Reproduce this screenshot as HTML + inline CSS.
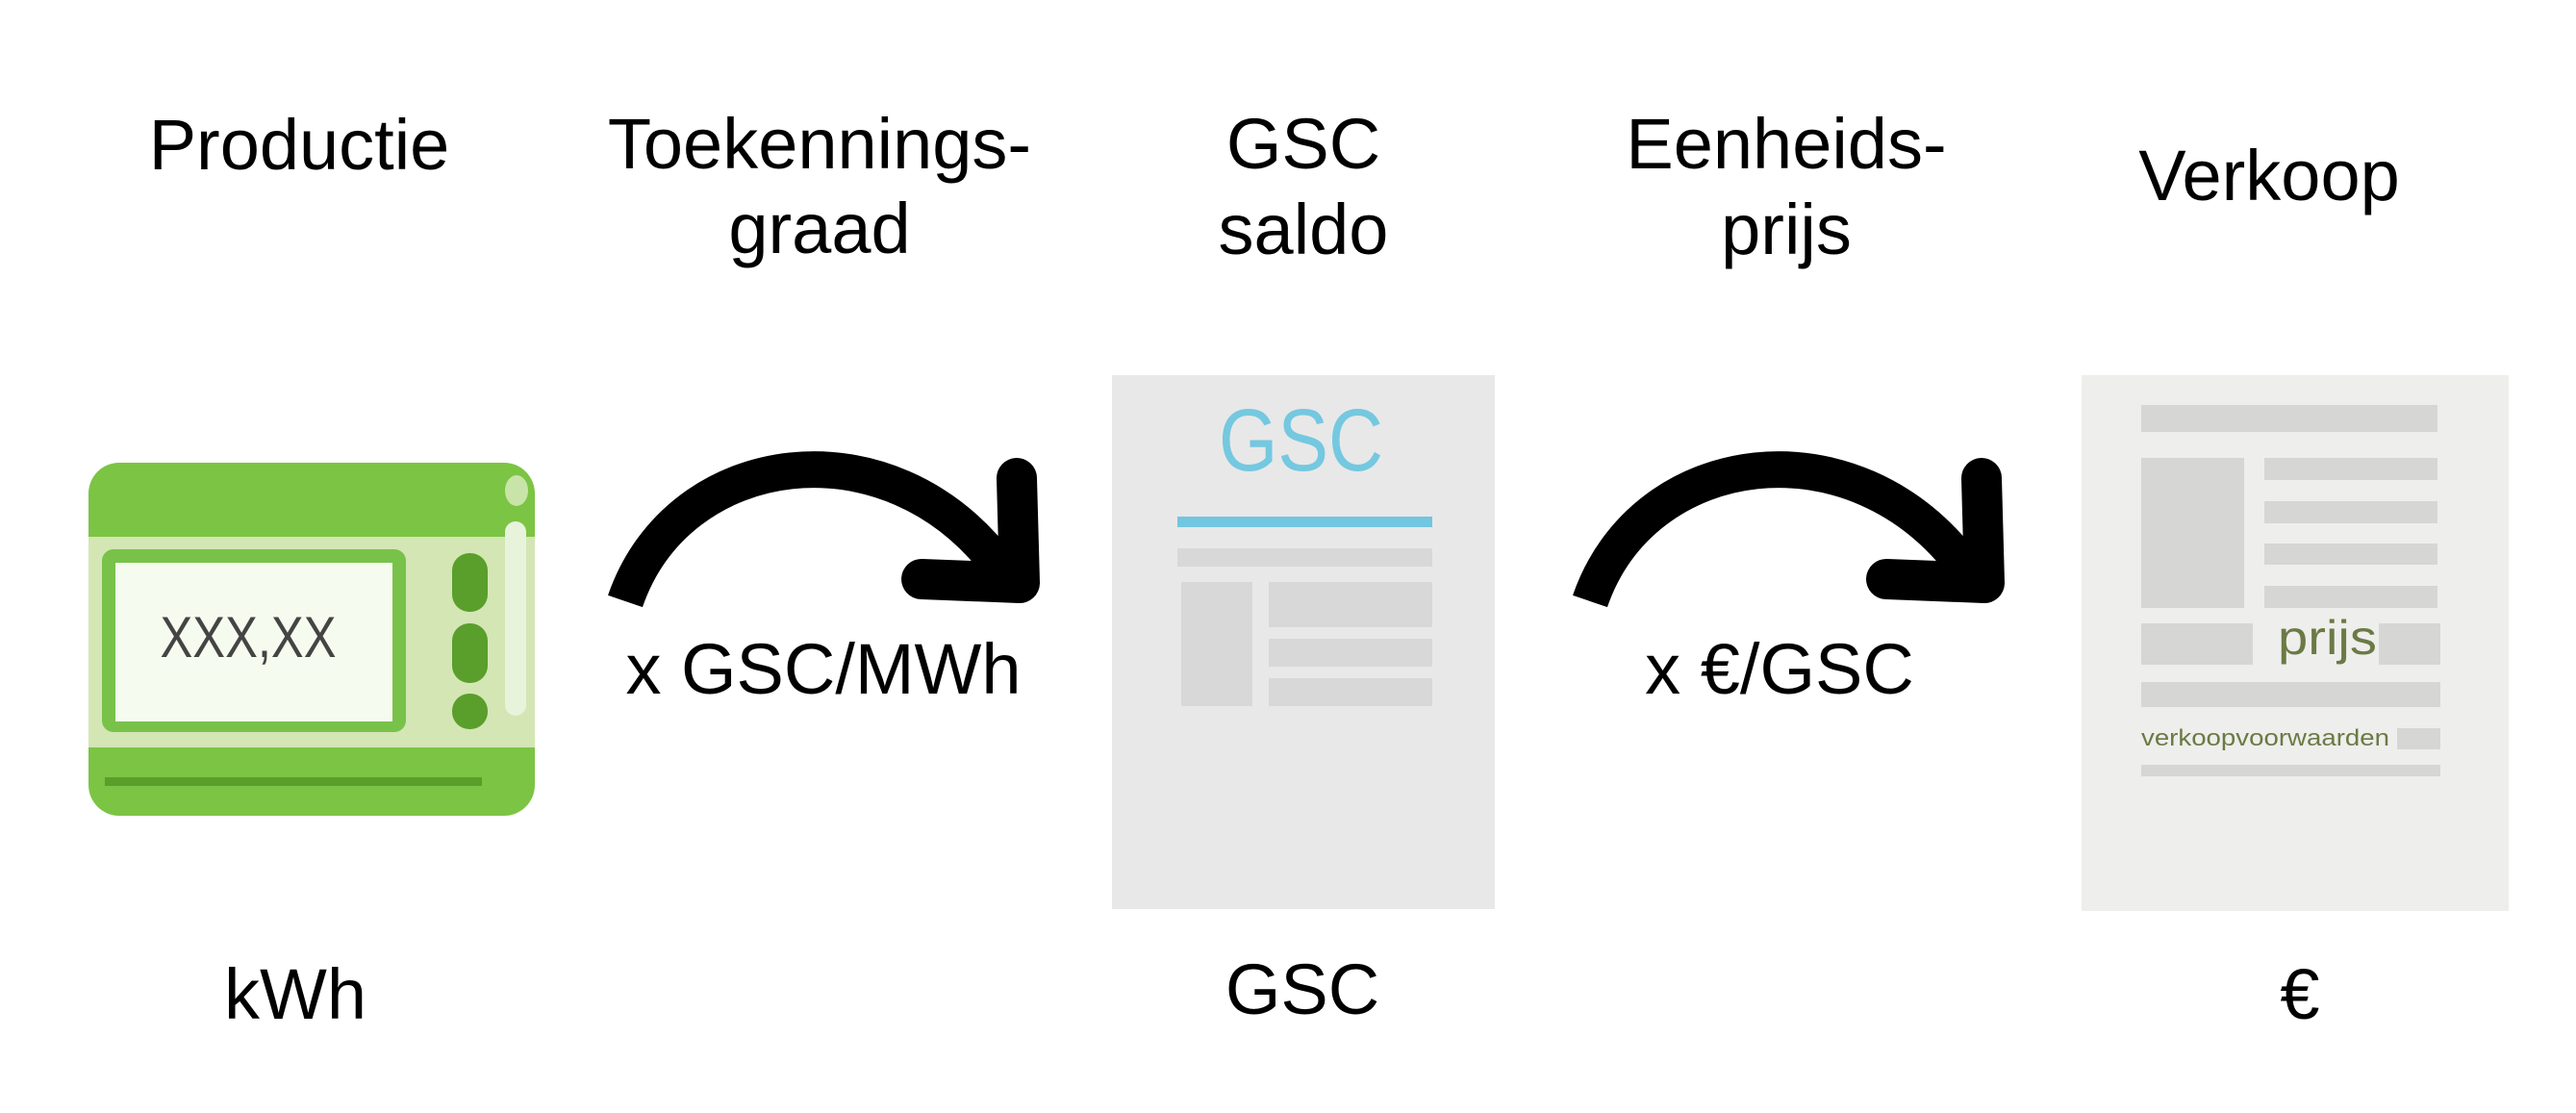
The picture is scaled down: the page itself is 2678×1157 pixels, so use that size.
<!DOCTYPE html>
<html><head><meta charset="utf-8"><style>
html,body{margin:0;padding:0;background:#fff;}
svg{display:block;}
text{font-family:"Liberation Sans",Arial,sans-serif;}
</style></head><body>
<svg width="2678" height="1157" viewBox="0 0 2678 1157" xmlns="http://www.w3.org/2000/svg">
<rect width="2678" height="1157" fill="#fff"/>
<g font-size="74" fill="#000" text-anchor="middle">
<text x="311" y="176">Productie</text>
<text x="852" y="175">Toekennings-</text>
<text x="852" y="263">graad</text>
<text x="1355" y="175">GSC</text>
<text x="1355" y="264">saldo</text>
<text x="1857" y="175">Eenheids-</text>
<text x="1857" y="264">prijs</text>
<text x="2359" y="208">Verkoop</text>
<text x="307" y="1059">kWh</text>
<text x="1354" y="1054">GSC</text>
<text x="2391" y="1059">€</text>
<text x="856" y="721">x GSC/MWh</text>
<text x="1850" y="721">x €/GSC</text>
</g>
<!-- meter -->
<rect x="92" y="481" width="464" height="367" rx="32" fill="#7cc444"/>
<rect x="92" y="558" width="464" height="219" fill="#d3e6b4"/>
<rect x="106" y="571" width="316" height="190" rx="12" fill="#78c24a"/>
<rect x="120" y="585" width="288" height="165" fill="#f5fbee"/>
<text x="258" y="683" font-size="60" fill="#444" text-anchor="middle" textLength="183" lengthAdjust="spacingAndGlyphs" font-weight="300">XXX,XX</text>
<rect x="470" y="575" width="37" height="61" rx="18" fill="#5a9e2c"/>
<rect x="470" y="648" width="37" height="62" rx="18" fill="#5a9e2c"/>
<rect x="470" y="721" width="37" height="37" rx="18" fill="#5a9e2c"/>
<rect x="525" y="542" width="22" height="202" rx="11" fill="#e8f3dc"/>
<ellipse cx="537" cy="510" rx="12" ry="16" fill="#c8e4a8"/>
<rect x="109" y="808" width="392" height="9" fill="#5a9e2c"/>
<!-- arrows -->
<g fill="none" stroke="#000" stroke-linejoin="round">
<path d="M650 625 C705 465, 925 435, 1040 590" stroke-width="38"/>
<polyline points="958,602 1060,606 1057,497" stroke-width="42" stroke-linecap="round"/>
</g>
<g transform="translate(1003,0)" fill="none" stroke="#000" stroke-linejoin="round">
<path d="M650 625 C705 465, 925 435, 1040 590" stroke-width="38"/>
<polyline points="958,602 1060,606 1057,497" stroke-width="42" stroke-linecap="round"/>
</g>
<!-- GSC doc -->
<rect x="1156" y="390" width="398" height="555" fill="#e8e8e8"/>
<text x="1267" y="489" font-size="92" fill="#74c8df" textLength="171" lengthAdjust="spacingAndGlyphs" font-family="'DejaVu Sans',sans-serif">GSC</text>
<rect x="1224" y="537" width="265" height="11" fill="#72c6e0"/>
<rect x="1224" y="570" width="265" height="19" fill="#d8d8d8"/>
<rect x="1228" y="605" width="74" height="129" fill="#d8d8d8"/>
<rect x="1319" y="605" width="170" height="47" fill="#d8d8d8"/>
<rect x="1319" y="664" width="170" height="29" fill="#d8d8d8"/>
<rect x="1319" y="705" width="170" height="29" fill="#d8d8d8"/>
<!-- sales doc -->
<rect x="2164" y="390" width="444" height="557" fill="#eeeeec"/>
<rect x="2226" y="421" width="308" height="28" fill="#d6d6d4"/>
<rect x="2226" y="476" width="107" height="156" fill="#d6d6d4"/>
<rect x="2354" y="476" width="180" height="23" fill="#d6d6d4"/>
<rect x="2354" y="521" width="180" height="23" fill="#d6d6d4"/>
<rect x="2354" y="565" width="180" height="22" fill="#d6d6d4"/>
<rect x="2354" y="609" width="180" height="23" fill="#d6d6d4"/>
<rect x="2226" y="648" width="116" height="43" fill="#d6d6d4"/>
<rect x="2473" y="648" width="64" height="43" fill="#d6d6d4"/>
<text x="2368" y="680" font-size="50" fill="#6b7a45" textLength="103" lengthAdjust="spacingAndGlyphs" font-family="'DejaVu Sans',sans-serif">prijs</text>
<rect x="2226" y="709" width="311" height="26" fill="#d6d6d4"/>
<text x="2226" y="775" font-size="24" fill="#6b7a45" textLength="258" lengthAdjust="spacingAndGlyphs" font-family="'DejaVu Sans',sans-serif">verkoopvoorwaarden</text>
<rect x="2492" y="757" width="45" height="22" fill="#d6d6d4"/>
<rect x="2226" y="795" width="311" height="12" fill="#d6d6d4"/>
</svg>
</body></html>
